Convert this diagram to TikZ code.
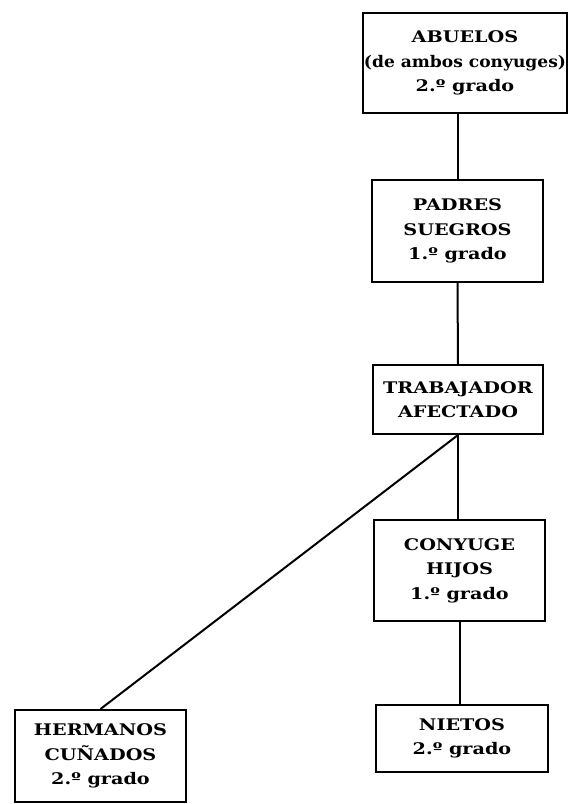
\documentclass[tikz,border=0pt]{standalone}
\usepackage{fontspec}
\setmainfont{DejaVu Serif}[FakeStretch=1.2]
\begin{document}
\begin{tikzpicture}[x=1pt,y=-1pt,
  kin/.style={draw=black, line width=2pt, rectangle, inner sep=0pt, align=center,
    font=\fontsize{16}{24.5}\selectfont\bfseries},
  link/.style={draw=black, line width=2pt}]
\useasboundingbox (0,0) rectangle (570,804);
\node[kin, minimum width=204pt, minimum height=100pt] (abu) at (465,63)
  {ABUELOS\\\scalebox{0.89}[1]{(de ambos conyuges)}\\2.º grado};
\node[kin, minimum width=171pt, minimum height=102pt] (pad) at (457.5,231)
  {PADRES\\SUEGROS\\1.º grado};
\node[kin, minimum width=170pt, minimum height=69pt] (trab) at (458,399.5)
  {TRABAJADOR\\AFECTADO};
\node[kin, minimum width=171pt, minimum height=101pt] (cony) at (459.5,570.5)
  {CONYUGE\\HIJOS\\1.º grado};
\node[kin, minimum width=172pt, minimum height=67pt] (niet) at (462,738.5)
  {NIETOS\\2.º grado};
\node[kin, minimum width=171pt, minimum height=92pt] (herm) at (100.5,756)
  {HERMANOS\\CUÑADOS\\2.º grado};
\draw[link] (pad.north |- abu.south) -- (pad.north);
\draw[link] (pad.south) -- (trab.north);
\draw[link] (trab.south) -- (trab.south |- cony.north);
\draw[link] (trab.south) -- (herm.north);
\draw[link] (cony.south) -- (cony.south |- niet.north);
\end{tikzpicture}
\end{document}
